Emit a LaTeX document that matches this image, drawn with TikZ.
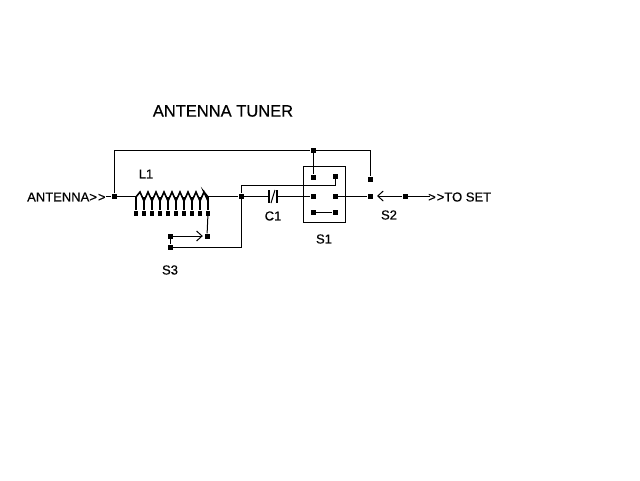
\documentclass[tikz,border=0pt]{standalone}
\usepackage{fontspec}
\setmainfont[FakeBold=0.4]{Liberation Sans}
\usetikzlibrary{arrows.meta}
\tikzset{
    pindot/.style={draw=none,fill=black,minimum size=5pt,inner sep=0pt},
    tapdot/.style={draw=none,fill=black,minimum width=4pt,minimum height=5pt,inner sep=0pt},
    wire/.style={line width=1pt},
    label/.style={inner sep=0pt,font=\fontsize{13}{13}\selectfont},
    swarrow/.style={wire,-{Straight Barb[length=5.5pt,width=10pt,line width=1pt]}},
}
\begin{document}
\begin{tikzpicture}[x=1pt,y=-1pt]
    \useasboundingbox (0,0) rectangle (640,480);
    %% Title and labels
    \node[inner sep=0pt,font=\fontsize{16.5}{16.5}\selectfont] (title) at (223,111) {ANTENNA TUNER};
    \node[label,anchor=west] (antenna) at (27,197) {ANTENNA>\kern1pt>};
    \node[label,anchor=west] (toset) at (428,197) {>\kern1pt>TO SET};
    \node[label] (labelL) at (146,174) {L1};
    \node[label] (labelC) at (273,216) {C1};
    \node[label] (labelA) at (324,239) {S1};
    \node[label] (labelB) at (389,215) {S2};
    \node[label] (labelS) at (170,270) {S3};
    %% Pins
    \node[pindot] (ant) at (114,196) {};
    \node[pindot] (junc) at (241,196) {};
    \node[pindot] (top) at (313,150) {};
    \node[pindot] (aa) at (313,177) {};
    \node[pindot] (ab) at (335,176) {};
    \node[pindot] (ba) at (313,196) {};
    \node[pindot] (bb) at (335,196) {};
    \node[pindot] (ca) at (313,212) {};
    \node[pindot] (cb) at (335,212) {};
    \node[pindot] (upper) at (370,179) {};
    \node[pindot] (lower) at (370,196) {};
    \node[pindot] (arm) at (405,196) {};
    \node[pindot] (sa) at (170,236) {};
    \node[pindot] (sb) at (170,247) {};
    \node[pindot] (sc) at (207,236) {};
    \coordinate (coilin) at (136,196);
    \coordinate (coilout) at (208,196);
    \coordinate (capin) at (269,196);
    \coordinate (capout) at (277,196);
    \coordinate (bend) at (241,185);
    \coordinate (sent) at (430,196);
    %% Switch S1 box
    \draw[wire] (303,166) rectangle (345,222);
    %% Coil L1, with its taps
    \draw[wire] (antenna.east |- ant) -- (ant);
    \draw[wire] (ant) -- (coilin);
    \draw[wire] (coilout) -- (junc);
    \draw[line width=1.6pt] (136,197)
        \foreach \i in {0,...,8} { -- ({140+8*\i},192) -- ({144+8*\i},201) }
        -- (204,192) -- (208,197);
    \foreach \i in {0,...,9} {
        \node[tapdot] (tap\i) at ({136+8*\i},213) {};
        \draw[line width=2.4pt] ({136+8*\i},197) -- (tap\i);
    }
    %% Wiring
    \draw[wire] (ant) |- (top);
    \draw[wire] (top) -| (upper);
    \draw[wire] (top) -- (aa);
    \draw[wire] (ab) |- (bend) -- (junc);
    \draw[wire] (junc) -- (capin);
    \draw[wire] (capout) -- (ba);
    \draw[wire] (junc) |- (sb);
    \draw[wire] (sa) -- (sb);
    \draw[swarrow,shorten >=1.5pt] (sa) -- (sc);
    \draw[wire] (tap9) -- (sc);
    \draw[wire] (ca) -- (cb);
    \draw[wire] (bb) -- (lower);
    \draw[swarrow] (arm) -- (377,196);
    \draw[wire] (arm) -- (sent);
    %% Capacitor C1
    \draw[line width=1.5pt] (269,190) -- (269,203);
    \draw[line width=1.5pt] (277,190) -- (277,203);
    \draw[wire] (271,203) -- (275,190);
\end{tikzpicture}
\end{document}
